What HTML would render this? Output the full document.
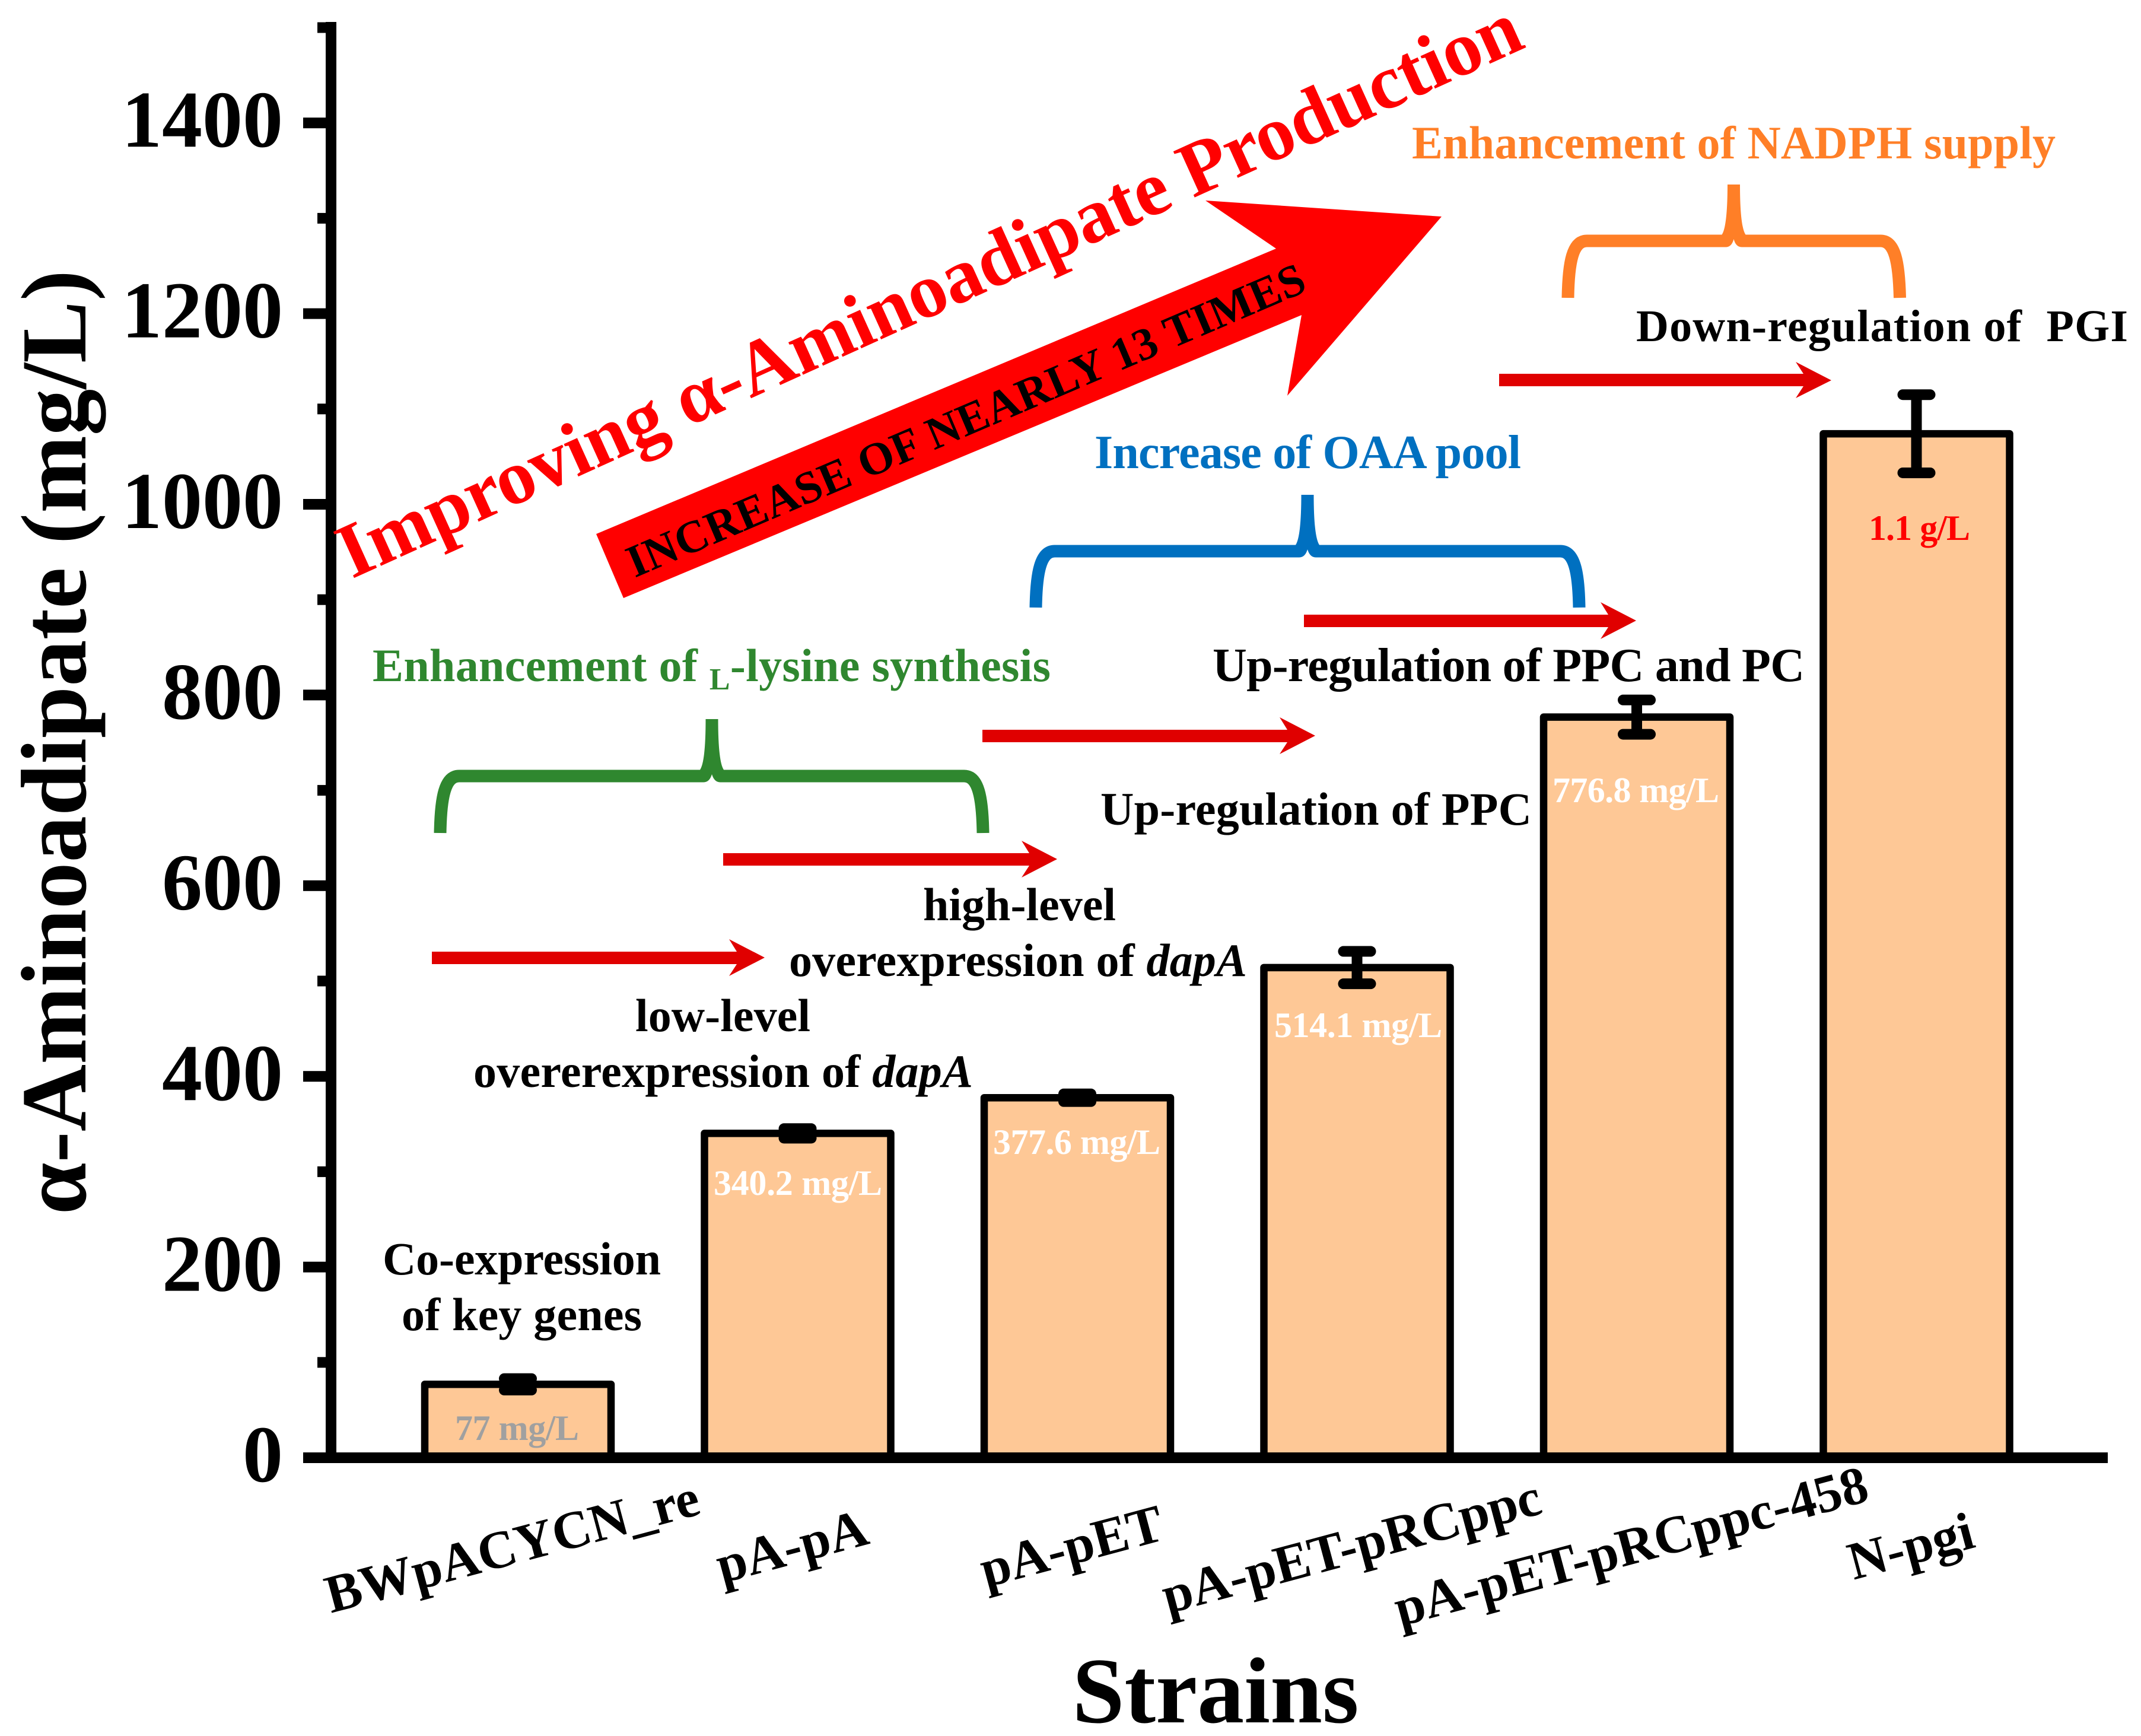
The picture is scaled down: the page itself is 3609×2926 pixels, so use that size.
<!DOCTYPE html>
<html lang="en">
<head>
<meta charset="utf-8">
<title>α-Aminoadipate production by strain</title>
<style>
html,body{margin:0;padding:0;background:#fff}
svg{display:block}
text{font-family:"Liberation Serif",serif;font-weight:bold;white-space:pre}
</style>
</head>
<body>
<svg id="chart" xmlns="http://www.w3.org/2000/svg" width="3609" height="2926" viewBox="0 0 3609 2926">
  <rect width="3609" height="2926" fill="#fff"/>
  <g id="bars"></g>
  <g id="errors"></g>
  <g id="axes"></g>

  <text transform="translate(144 1251) rotate(-90)" text-anchor="middle" font-size="157">α-Aminoadipate (mg/L)</text>
  <text x="2049" y="2903" text-anchor="middle" font-size="158">Strains</text>

  <polygon fill="#ff0000" points="1005,900 2151,419 2032,338 2430,365 2170,667 2194,531 1051,1008"/>
  <text transform="translate(1070 974) rotate(-23.1)" font-size="77" textLength="1235" fill="#000">INCREASE OF NEARLY 13 TIMES</text>
  <text transform="translate(593 976) rotate(-24.36)" font-size="130.5" textLength="2175" fill="#ff0000">Improving α-Aminoadipate Production</text>

  <text x="2380" y="267" font-size="78" fill="#ff7f27" textLength="1085">Enhancement of NADPH supply</text>
  <text x="1845" y="789" font-size="80" fill="#0070c0" textLength="719">Increase of OAA pool</text>
  <text x="628" y="1148" font-size="78" fill="#2f872f" textLength="1143">Enhancement of <tspan font-size="52" dy="14">L</tspan><tspan dy="-14">-lysine synthesis</tspan></text>

  <g>
    <path fill="none" stroke="#ff7f27" stroke-width="21" d="M2643,502 C2644,441 2651,406 2675,406 L2900,406 M2945,406 L3170,406 C3194,406 3201,441 3202.5,502"/>
    <path fill="#ff7f27" d="M2912,311 L2933,311 C2933,356 2936,386 2942.5,395.5 L2962,395.5 L2962,416.5 L2936,416.5 Q2926,416.5 2922.5,403 Q2919,416.5 2909,416.5 L2883,416.5 L2883,395.5 L2902.5,395.5 C2909,386 2912,356 2912,311 Z"/>
  </g>
  <g>
    <path fill="none" stroke="#0070c0" stroke-width="21" d="M1746,1024 C1747,964 1754,929 1778,929 L2180,929 M2228,929 L2630,929 C2654,929 2661,964 2662,1024"/>
    <path fill="#0070c0" d="M2193.5,834 L2214.5,834 C2214.5,879 2217.5,909 2224,918.5 L2244,918.5 L2244,939.5 L2218,939.5 Q2208,939.5 2204,926 Q2200,939.5 2190,939.5 L2164,939.5 L2164,918.5 L2184,918.5 C2190.5,909 2193.5,879 2193.5,834 Z"/>
  </g>
  <g>
    <path fill="none" stroke="#2f872f" stroke-width="21" d="M742,1404 C743,1343 750,1308 774,1308 L1176,1308 M1224,1308 L1625,1308 C1649,1308 1656,1343 1657,1404"/>
    <path fill="#2f872f" d="M1189.5,1212 L1210.5,1212 C1210.5,1258 1213.5,1288 1220,1297.5 L1240,1297.5 L1240,1318.5 L1214,1318.5 Q1204,1318.5 1200,1305 Q1196,1318.5 1186,1318.5 L1160,1318.5 L1160,1297.5 L1180,1297.5 C1186.5,1288 1189.5,1258 1189.5,1212 Z"/>
  </g>

  <g fill="#e00000">
    <polygon points="2527,630 3040,630 3027,610 3087,641 3027,671 3040,651 2527,651"/>
    <polygon points="2198,1036 2711,1036 2698,1015 2758,1046 2698,1077 2711,1057 2198,1057"/>
    <polygon points="1656,1230 2170,1230 2157,1209 2217,1240 2157,1271 2170,1251 1656,1251"/>
    <polygon points="1219,1438 1735,1438 1722,1417 1782,1448 1722,1479 1735,1459 1219,1459"/>
    <polygon points="728,1604 1242,1604 1229,1583 1289,1614 1229,1645 1242,1625 728,1625"/>
  </g>

  <g fill="#000" font-size="78">
    <text x="2758" y="575" font-size="76" textLength="829">Down-regulation of  PGI</text>
    <text x="2044" y="1148" font-size="80" textLength="998">Up-regulation of PPC and PC</text>
    <text x="1855" y="1390" textLength="727">Up-regulation of PPC</text>
    <text x="1556" y="1551" textLength="325">high-level</text>
    <text x="1330" y="1645" textLength="772">overexpression of <tspan font-style="italic">dapA</tspan></text>
    <text x="1071" y="1738" textLength="295">low-level</text>
    <text x="798" y="1832" textLength="842">overerexpression of <tspan font-style="italic">dapA</tspan></text>
    <text x="645" y="2148" textLength="469">Co-expression</text>
    <text x="677" y="2242" textLength="405">of key genes</text>
  </g>

  <g font-size="60">
    <text x="767" y="2427" fill="#a0a0a0" textLength="209">77 mg/L</text>
    <text x="1203" y="2014" fill="#fff" textLength="284">340.2 mg/L</text>
    <text x="1674" y="1945" fill="#fff" textLength="282">377.6 mg/L</text>
    <text x="2148" y="1748" fill="#fff" textLength="283">514.1 mg/L</text>
    <text x="2617" y="1352" fill="#fff" textLength="281">776.8 mg/L</text>
    <text x="3150" y="910" fill="#ff0000" textLength="171">1.1 g/L</text>
  </g>
</svg>
<script>
const categories = ['BWpACYCN_re', 'pA-pA', 'pA-pET', 'pA-pET-pRCppc', 'pA-pET-pRCppc-458', 'N-pgi'];
const titers = [77, 340.2, 377.6, 514.1, 776.8, 1074];
const errors = [6, 5, 4, 17, 18, 41];
const majorTicks = [0, 200, 400, 600, 800, 1000, 1200, 1400];
const minorTicks = [100, 300, 500, 700, 900, 1100, 1300, 1500];

const NS = 'http://www.w3.org/2000/svg';
const yScale = v => 2457 - v * 1.607;
const xScale = i => 873 + i * 471.5;
const BAR_W = 314;

function make(parent, tag, attrs) {
  const el = document.createElementNS(NS, tag);
  for (const k in attrs) el.setAttribute(k, attrs[k]);
  parent.appendChild(el);
  return el;
}

const barsG = document.getElementById('bars');
const errG = document.getElementById('errors');
const axesG = document.getElementById('axes');

titers.forEach((v, i) => {
  const cx = xScale(i);
  const bar = make(barsG, 'rect', {
    x: cx - BAR_W / 2, y: yScale(v), width: BAR_W, height: yScale(0) - yScale(v),
    fill: '#fec896', stroke: '#000', 'stroke-width': 12.5, 'stroke-linejoin': 'round'
  });
  
  

  const hi = yScale(v + errors[i]);
  const lo = yScale(v - errors[i]);
  const stem = make(errG, 'line', { x1: cx, x2: cx, y1: hi, y2: lo, stroke: '#000', 'stroke-width': 18 });
  
  
  const capTop = make(errG, 'line', { x1: cx - 23, x2: cx + 23, y1: hi, y2: hi, stroke: '#000', 'stroke-width': 18, 'stroke-linecap': 'round' });
  
  
  const capBottom = make(errG, 'line', { x1: cx - 23, x2: cx + 23, y1: lo, y2: lo, stroke: '#000', 'stroke-width': 18, 'stroke-linecap': 'round' });
  
  

  const label = make(axesG, 'text', {
    'text-anchor': 'middle', 'font-size': 90, fill: '#000',
    transform: 'translate(' + (cx - 2) + ' 2635) rotate(-15)'
  });
  label.textContent = categories[i];
  
  
});

const yAxisLine = make(axesG, 'rect', { x: 549, y: 37, width: 18, height: 2429, fill: '#000' });


const xAxisLine = make(axesG, 'rect', { x: 511, y: 2448, width: 3042, height: 18, fill: '#000' });



majorTicks.forEach(t => {
  const tick = make(axesG, 'rect', { x: 511, y: yScale(t) - 9, width: 40, height: 18, fill: '#000' });
  
  
  const lab = make(axesG, 'text', { x: 477, y: yScale(t) + 40, 'text-anchor': 'end', 'font-size': 136, fill: '#000' });
  lab.textContent = t;
  
  
});
minorTicks.forEach(t => {
  const tick = make(axesG, 'rect', { x: 535, y: yScale(t) - 9, width: 16, height: 18, fill: '#000' });
  
  
});
</script>
</body>
</html>
